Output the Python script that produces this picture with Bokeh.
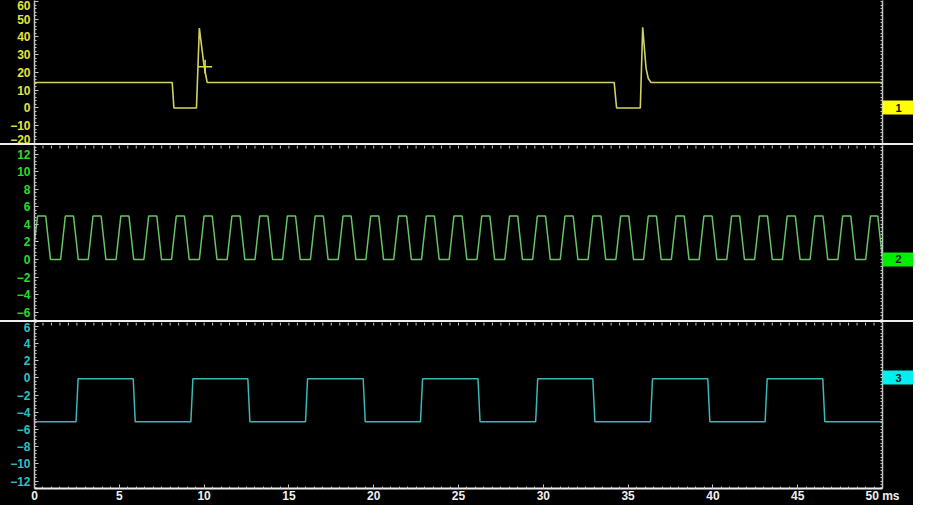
import math
from bokeh.plotting import figure
from bokeh.models import Range1d, FixedTicker, LinearAxis, Spacer
from bokeh.layouts import column
from bokeh.embed import file_html
from bokeh.resources import INLINE

# ---------------- data ----------------
x_major_ticks = [0, 5, 10, 15, 20, 25, 30, 35, 40, 45, 50]
x_label_overrides = {50: "50 ms"}
ch1_ticks = [-20, -10, 0, 10, 20, 30, 40, 50, 60]
ch2_ticks = [-6, -4, -2, 0, 2, 4, 6, 8, 10, 12]
ch3_ticks = [-12, -10, -8, -6, -4, -2, 0, 2, 4, 6]
channel_names = ["1", "2", "3"]
channel_zero = 0

# channel 1 (yellow) : vertices of the trace (ms, V)
ch1_t = [0.0, 8.12, 8.22, 9.55, 9.72, 9.98, 10.07, 10.18,
         34.18, 34.32, 35.72, 35.86, 35.96, 36.06, 36.19, 36.35, 50.0]
ch1_v = [14.4, 14.4, 0.0, 0.0, 45.0, 25.0, 20.0, 14.4,
         14.4, 0.0, 0.0, 45.5, 33.7, 22.3, 16.6, 14.4, 14.4]
cursor_t = [10.06]
cursor_v = [23.3]

# channel 2 (green) : start and end of every high plateau (ms)
ch2_high_start = [0.18, 1.82, 3.45, 5.09, 6.73, 8.36, 10.00, 11.64, 13.28, 14.91,
                  16.55, 18.19, 19.82, 21.46, 23.10, 24.73, 26.37, 28.01, 29.65, 31.28,
                  32.92, 34.56, 36.19, 37.83, 39.47, 41.10, 42.74, 44.38, 46.01, 47.65, 49.29]
ch2_high_end = [0.66, 2.30, 3.93, 5.57, 7.21, 8.84, 10.48, 12.12, 13.76, 15.39,
                17.03, 18.67, 20.30, 21.94, 23.58, 25.21, 26.85, 28.49, 30.13, 31.76,
                33.40, 35.04, 36.67, 38.31, 39.95, 41.58, 43.22, 44.86, 46.49, 48.13, 49.72]
ch2_edge = 0.28
ch2_high = 4.95
ch2_low = 0.0
ch2_start_v = 2.0

# channel 3 (cyan) : rising and falling edges (ms)
ch3_rise = [2.45, 9.22, 15.98, 22.76, 29.55, 36.32, 43.08]
ch3_fall = [5.82, 12.58, 19.38, 26.15, 32.92, 39.70, 46.48]
ch3_edge = 0.12
ch3_high = -0.1
ch3_low = -5.1

# ---------------- build traces ----------------
ch2_t, ch2_v = [0.0], [ch2_start_v]
for k, (s, e) in enumerate(zip(ch2_high_start, ch2_high_end)):
    if k > 0:
        ch2_t.append(s - ch2_edge); ch2_v.append(ch2_low)
    ch2_t.append(s); ch2_v.append(ch2_high)
    ch2_t.append(e); ch2_v.append(ch2_high)
    ch2_t.append(min(e + ch2_edge, 50.0)); ch2_v.append(ch2_low)
ch2_t.append(50.0); ch2_v.append(ch2_low)

ch3_t, ch3_v = [0.0], [ch3_low]
for r, f in zip(ch3_rise, ch3_fall):
    ch3_t += [r, r + ch3_edge, f, f + ch3_edge]
    ch3_v += [ch3_low, ch3_high, ch3_high, ch3_low]
ch3_t.append(50.0); ch3_v.append(ch3_low)

# ---------------- styling ----------------
W = 913
LEFT = 34
RIGHT = 31
AX = "#c4c4c4"
SEP = "#eeeeee"
FONT = "Liberation Sans"
x_range = Range1d(0, 50)
x_minor = [i * 0.5 for i in range(0, 101)]


def y_minor(ticks):
    step = (ticks[1] - ticks[0]) / 5.0
    out = []
    for t in ticks[:-1]:
        out += [t + step * j for j in range(5)]
    lo, hi = ticks[0], ticks[-1]
    out += [lo - step * j for j in range(1, 6)] + [hi + step * j for j in range(0, 6)]
    return out


def make_fig(height, yr, ticks, label_color, name, box_color,
             bottom=False, top_ticks=False):
    p = figure(width=W, height=height, x_range=x_range, y_range=yr,
               output_backend="svg", toolbar_location=None,
               x_axis_location="below" if bottom else None,
               min_border_left=LEFT, min_border_right=RIGHT,
               min_border_top=0, min_border_bottom=0)
    p.background_fill_color = "black"
    p.border_fill_color = "black"
    p.outline_line_color = None
    p.xgrid.visible = False
    p.ygrid.visible = False

    ym = y_minor(ticks)
    ya = p.yaxis[0]
    ya.ticker = FixedTicker(ticks=ticks, minor_ticks=ym)
    ya.axis_line_color = AX
    ya.axis_line_width = 1.5
    ya.major_tick_in = 4
    ya.major_tick_out = 0
    ya.minor_tick_in = 2
    ya.minor_tick_out = 0
    ya.major_tick_line_color = AX
    ya.minor_tick_line_color = AX
    ya.major_label_text_color = label_color
    ya.major_label_text_font = FONT
    ya.major_label_text_font_style = "bold"
    ya.major_label_text_font_size = "12px"
    ya.major_label_standoff = 4

    # right-hand axis at 50 ms: minor ticks inside, channel marker box at 0 V
    ra = LinearAxis(ticker=FixedTicker(ticks=[channel_zero], minor_ticks=ym))
    ra.axis_line_color = AX
    ra.axis_line_width = 1.5
    ra.minor_tick_in = 2
    ra.minor_tick_out = 0
    ra.minor_tick_line_color = AX
    ra.major_tick_in = 0
    ra.major_tick_out = 32
    ra.major_tick_line_width = 14
    ra.major_tick_line_color = box_color
    ra.major_tick_line_cap = "butt"
    ra.major_label_overrides = {channel_zero: name}
    ra.major_label_standoff = -19
    ra.major_label_text_color = "#111111"
    ra.major_label_text_font = FONT
    ra.major_label_text_font_style = "bold"
    ra.major_label_text_font_size = "11px"
    p.add_layout(ra, "right")

    if top_ticks:
        # tick marks hanging from the separator above this panel
        p.ray(x=x_minor, y=[yr.end] * len(x_minor), length=3, length_units="screen",
              angle=-math.pi / 2, line_color=AX, line_width=1)

    if bottom:
        xa = p.xaxis[0]
        xa.ticker = FixedTicker(ticks=x_major_ticks, minor_ticks=x_minor)
        xa.axis_line_color = SEP
        xa.axis_line_width = 2
        xa.major_tick_in = 4
        xa.major_tick_out = 0
        xa.minor_tick_in = 2
        xa.minor_tick_out = 0
        xa.major_tick_line_color = AX
        xa.minor_tick_line_color = AX
        xa.major_label_text_color = "#f0f0f0"
        xa.major_label_text_font = FONT
        xa.major_label_text_font_style = "bold"
        xa.major_label_text_font_size = "12px"
        xa.major_label_standoff = 0
        xa.major_label_overrides = x_label_overrides
    return p


def separator():
    return Spacer(width=W, height=2, styles={"background-color": SEP})


p1 = make_fig(143, Range1d(-20, 60.56), ch1_ticks, "#e4e43a", channel_names[0], "#ffff00")
p1.line(ch1_t, ch1_v, line_color="#d2d264", line_width=1.6)
p1.scatter(cursor_t, cursor_v, marker="cross", size=14, line_color="#d8e040", line_width=1.5)

p2 = make_fig(175, Range1d(-6.95, 12.98), ch2_ticks, "#28dd28", channel_names[1], "#00ee00",
              top_ticks=True)
p2.line(ch2_t, ch2_v, line_color="#66c466", line_width=1.5)

p3 = make_fig(183, Range1d(-12.86, 6.43), ch3_ticks, "#2cc0c0", channel_names[2], "#00f0f0",
              bottom=True, top_ticks=True)
p3.line(ch3_t, ch3_v, line_color="#3cb8b8", line_width=1.5)

layout = column(p1, separator(), p2, separator(), p3, spacing=0)
layout.background = "black"

open("out.html", "w").write(file_html(layout, INLINE))
